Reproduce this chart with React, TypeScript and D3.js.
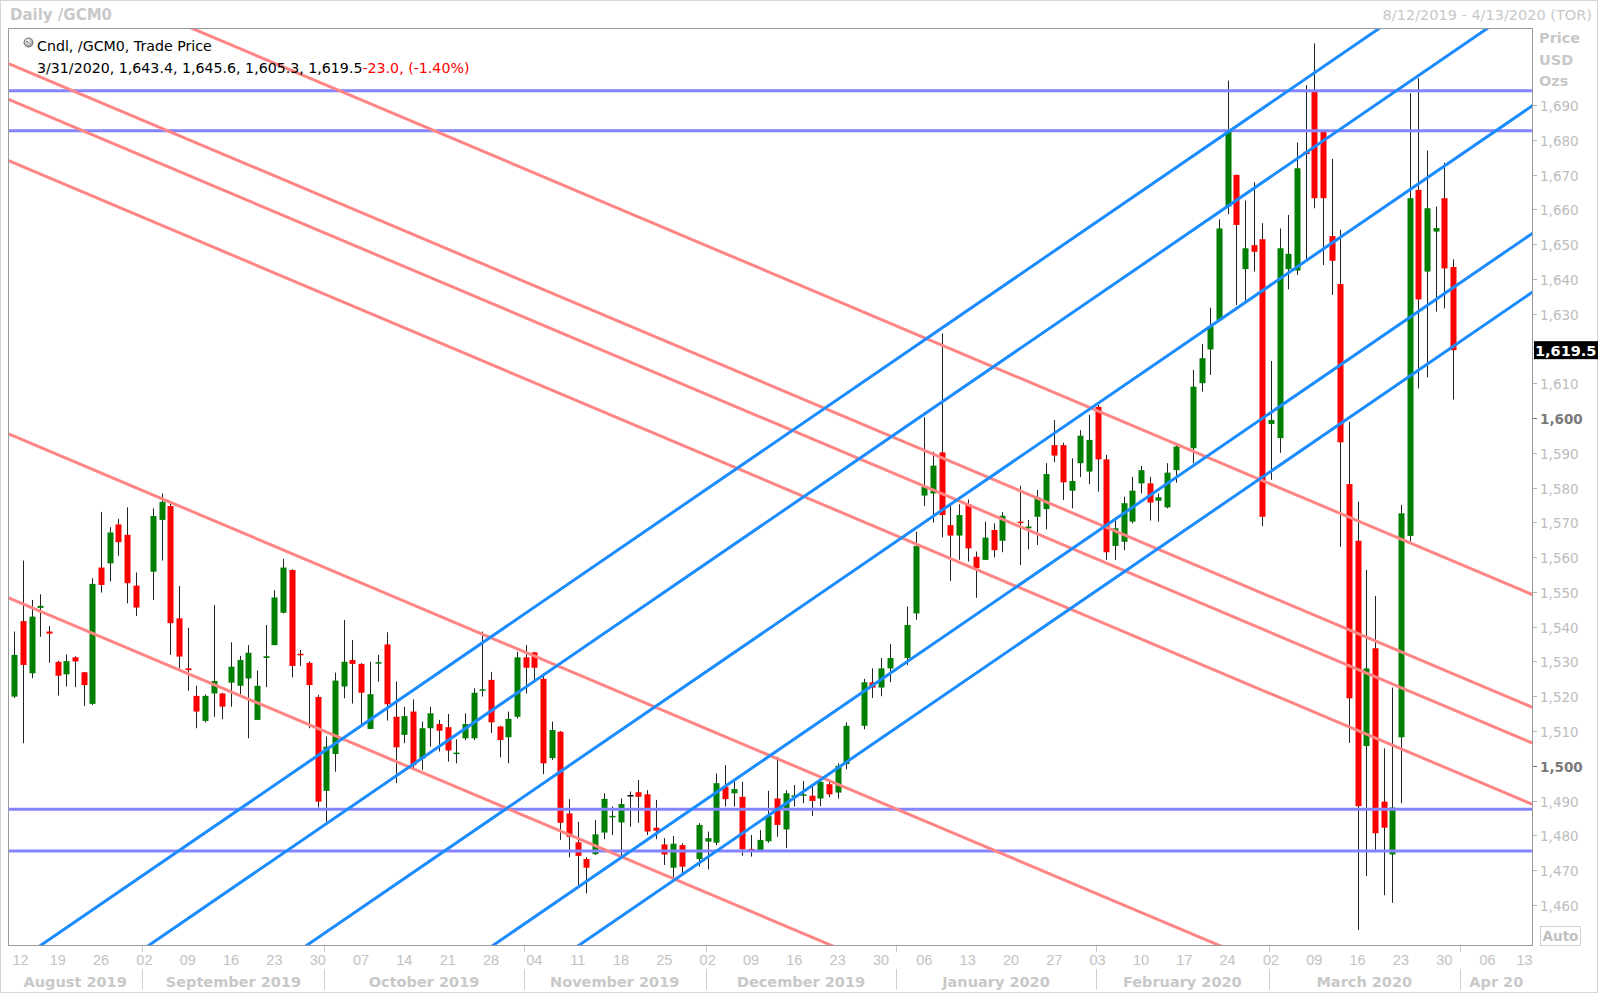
import React from "react";
import * as d3 from "d3";

// ---------- data (GCM0 daily candles) ----------
const dates = [
  "2019-08-12","2019-08-13","2019-08-14","2019-08-15","2019-08-16",
  "2019-08-19","2019-08-20","2019-08-21","2019-08-22","2019-08-23",
  "2019-08-26","2019-08-27","2019-08-28","2019-08-29","2019-08-30",
  "2019-09-03","2019-09-04","2019-09-05","2019-09-06",
  "2019-09-09","2019-09-10","2019-09-11","2019-09-12","2019-09-13",
  "2019-09-16","2019-09-17","2019-09-18","2019-09-19","2019-09-20",
  "2019-09-23","2019-09-24","2019-09-25","2019-09-26","2019-09-27",
  "2019-09-30","2019-10-01","2019-10-02","2019-10-03","2019-10-04",
  "2019-10-07","2019-10-08","2019-10-09","2019-10-10","2019-10-11",
  "2019-10-14","2019-10-15","2019-10-16","2019-10-17","2019-10-18",
  "2019-10-21","2019-10-22","2019-10-23","2019-10-24","2019-10-25",
  "2019-10-28","2019-10-29","2019-10-30","2019-10-31","2019-11-01",
  "2019-11-04","2019-11-05","2019-11-06","2019-11-07","2019-11-08",
  "2019-11-11","2019-11-12","2019-11-13","2019-11-14","2019-11-15",
  "2019-11-18","2019-11-19","2019-11-20","2019-11-21","2019-11-22",
  "2019-11-25","2019-11-26","2019-11-27","2019-11-29",
  "2019-12-02","2019-12-03","2019-12-04","2019-12-05","2019-12-06",
  "2019-12-09","2019-12-10","2019-12-11","2019-12-12","2019-12-13",
  "2019-12-16","2019-12-17","2019-12-18","2019-12-19","2019-12-20",
  "2019-12-23","2019-12-24","2019-12-26","2019-12-27",
  "2019-12-30","2019-12-31","2020-01-02","2020-01-03",
  "2020-01-06","2020-01-07","2020-01-08","2020-01-09","2020-01-10",
  "2020-01-13","2020-01-14","2020-01-15","2020-01-16","2020-01-17",
  "2020-01-21","2020-01-22","2020-01-23","2020-01-24",
  "2020-01-27","2020-01-28","2020-01-29","2020-01-30","2020-01-31",
  "2020-02-03","2020-02-04","2020-02-05","2020-02-06","2020-02-07",
  "2020-02-10","2020-02-11","2020-02-12","2020-02-13","2020-02-14",
  "2020-02-18","2020-02-19","2020-02-20","2020-02-21",
  "2020-02-24","2020-02-25","2020-02-26","2020-02-27","2020-02-28",
  "2020-03-02","2020-03-03","2020-03-04","2020-03-05","2020-03-06",
  "2020-03-09","2020-03-10","2020-03-11","2020-03-12","2020-03-13",
  "2020-03-16","2020-03-17","2020-03-18","2020-03-19","2020-03-20",
  "2020-03-23","2020-03-24","2020-03-25","2020-03-26","2020-03-27",
  "2020-03-30","2020-03-31",
];

const opens = [
  1519.9, 1541.6, 1526.6, 1545.4, 1538.6,
  1529.9, 1526.3, 1531.2, 1526.9, 1517.8,
  1557.0, 1558.2, 1569.4, 1566.4, 1551.8,
  1555.8, 1570.7, 1574.7, 1542.4,
  1528.0, 1520.1, 1512.9, 1520.8, 1520.8,
  1523.9, 1523.0, 1525.1, 1513.2, 1531.0,
  1534.7, 1544.0, 1556.3, 1532.2, 1529.6,
  1519.8, 1492.8, 1503.4, 1522.8, 1530.4,
  1529.3, 1510.6, 1529.5, 1534.9, 1514.1,
  1508.9, 1515.6, 1502.1, 1510.8, 1512.0,
  1511.1, 1503.5, 1507.9, 1507.9, 1521.7,
  1524.7, 1511.3, 1508.2, 1514.1, 1531.2,
  1532.6, 1525.0, 1502.2, 1509.8, 1486.3,
  1478.0, 1473.2, 1474.6, 1480.8, 1485.3,
  1483.7, 1491.6, 1492.4, 1491.8, 1482.2,
  1477.4, 1470.7, 1477.2, 1473.2,
  1478.2, 1477.9, 1494.0, 1492.1, 1491.1,
  1476.1, 1475.8, 1478.3, 1490.6, 1481.7,
  1491.1, 1491.5, 1491.4, 1490.6, 1494.7,
  1492.3, 1500.5, 1511.5, 1524.0,
  1522.5, 1528.0, 1531.0, 1543.8,
  1577.7, 1578.3, 1590.1, 1569.2, 1566.2,
  1575.2, 1560.1, 1559.2, 1567.8, 1564.7,
  1570.2, 1568.3, 1571.6, 1573.8,
  1592.2, 1592.2, 1579.1, 1587.0, 1584.6,
  1603.2, 1588.1, 1563.2, 1564.4, 1570.2,
  1581.2, 1581.2, 1576.2, 1574.3, 1585.0,
  1591.3, 1610.0, 1619.7, 1628.2,
  1660.8, 1669.9, 1642.8, 1649.7, 1651.4,
  1598.3, 1594.2, 1642.8, 1642.4, 1676.6,
  1693.8, 1682.3, 1652.3, 1638.5, 1581.0,
  1564.7, 1505.7, 1533.8, 1489.7, 1474.5,
  1508.2, 1566.1, 1665.6, 1642.1, 1653.6,
  1663.2, 1643.4,
];

const highs = [
  1538.6, 1559.0, 1547.7, 1549.3, 1540.2,
  1530.2, 1532.0, 1531.5, 1527.0, 1553.9,
  1573.0, 1568.6, 1571.0, 1574.3, 1555.6,
  1574.0, 1578.3, 1576.0, 1551.7,
  1539.7, 1523.0, 1520.5, 1546.2, 1521.0,
  1535.5, 1531.6, 1534.7, 1527.4, 1540.5,
  1550.5, 1559.5, 1556.5, 1533.3, 1530.0,
  1520.4, 1508.4, 1526.8, 1541.9, 1536.2,
  1529.5, 1529.9, 1531.9, 1538.4, 1524.2,
  1517.0, 1519.1, 1512.7, 1517.0, 1513.2,
  1514.9, 1507.6, 1515.1, 1522.3, 1538.6,
  1527.0, 1511.5, 1515.6, 1532.8, 1534.7,
  1532.8, 1526.6, 1512.7, 1510.0, 1490.4,
  1483.9, 1473.7, 1484.4, 1492.1, 1488.3,
  1490.6, 1492.6, 1495.9, 1493.0, 1490.2,
  1479.2, 1479.8, 1477.7, 1483.5,
  1481.1, 1497.8, 1500.2, 1495.9, 1495.4,
  1480.1, 1481.5, 1492.8, 1502.6, 1493.0,
  1494.5, 1495.6, 1494.5, 1496.9, 1495.9,
  1500.7, 1512.5, 1525.0, 1528.0,
  1531.0, 1535.0, 1545.8, 1567.3,
  1600.2, 1590.3, 1624.3, 1575.0, 1575.2,
  1576.6, 1561.6, 1570.2, 1569.7, 1572.9,
  1580.5, 1570.7, 1579.3, 1587.0,
  1599.4, 1592.9, 1588.4, 1596.5, 1600.9,
  1603.7, 1589.4, 1571.4, 1577.4, 1583.1,
  1586.2, 1583.1, 1578.3, 1587.0, 1592.7,
  1613.8, 1621.3, 1631.7, 1657.1,
  1697.0, 1670.0, 1662.5, 1667.8, 1656.0,
  1616.4, 1654.5, 1658.4, 1679.2, 1695.7,
  1707.7, 1682.8, 1674.5, 1654.1, 1598.9,
  1575.9, 1556.3, 1548.8, 1505.0, 1522.5,
  1575.0, 1693.4, 1697.7, 1676.9, 1660.8,
  1673.4, 1645.6,
];

const lows = [
  1519.5, 1506.5, 1525.2, 1537.1, 1529.6,
  1520.2, 1522.8, 1522.6, 1517.2, 1517.5,
  1549.8, 1553.0, 1560.4, 1546.7, 1543.1,
  1547.7, 1559.0, 1531.9, 1528.0,
  1521.6, 1510.8, 1512.5, 1514.1, 1513.4,
  1517.0, 1520.6, 1507.9, 1513.2, 1522.6,
  1534.7, 1543.8, 1525.4, 1528.7, 1510.8,
  1488.0, 1483.9, 1498.3, 1519.4, 1517.9,
  1511.7, 1510.6, 1524.2, 1513.0, 1495.0,
  1506.5, 1498.8, 1498.8, 1505.5, 1504.1,
  1501.2, 1500.7, 1507.4, 1507.4, 1519.9,
  1509.5, 1502.4, 1500.7, 1513.6, 1520.8,
  1524.7, 1497.6, 1501.7, 1478.7, 1473.7,
  1465.7, 1463.3, 1474.4, 1478.9, 1480.1,
  1474.1, 1482.5, 1483.6, 1480.1, 1478.9,
  1471.5, 1467.6, 1469.1, 1471.0,
  1470.2, 1477.2, 1488.3, 1488.3, 1474.1,
  1473.9, 1475.3, 1477.9, 1479.6, 1476.3,
  1488.3, 1489.2, 1485.6, 1488.4, 1491.0,
  1490.6, 1499.0, 1510.5, 1519.5,
  1520.0, 1524.0, 1529.0, 1542.0,
  1574.7, 1569.9, 1565.7, 1553.1, 1559.2,
  1558.7, 1548.3, 1559.2, 1559.9, 1561.4,
  1557.7, 1562.2, 1563.5, 1568.0,
  1587.3, 1576.4, 1574.0, 1583.0, 1581.0,
  1578.8, 1559.2, 1559.2, 1562.0, 1569.7,
  1578.3, 1570.5, 1570.2, 1574.0, 1581.4,
  1587.0, 1607.6, 1612.4, 1628.0,
  1658.6, 1632.5, 1633.4, 1642.1, 1568.9,
  1582.2, 1590.0, 1637.0, 1641.1, 1645.4,
  1660.3, 1644.0, 1635.4, 1563.0, 1506.6,
  1452.8, 1468.3, 1475.8, 1462.8, 1460.6,
  1489.2, 1564.5, 1608.5, 1611.7, 1630.6,
  1631.5, 1605.3,
];

const closes = [
  1531.9, 1529.0, 1542.9, 1546.0, 1538.0,
  1525.9, 1530.1, 1530.0, 1523.2, 1552.3,
  1552.0, 1567.1, 1564.3, 1552.5, 1545.5,
  1571.8, 1575.9, 1541.0, 1531.4,
  1527.5, 1515.6, 1520.1, 1524.4, 1517.0,
  1528.5, 1530.4, 1532.5, 1523.0, 1531.5,
  1548.4, 1557.0, 1528.7, 1531.8, 1523.2,
  1489.7, 1505.5, 1524.5, 1529.9, 1529.3,
  1521.0, 1520.6, 1529.8, 1517.7, 1505.3,
  1514.3, 1500.2, 1510.8, 1515.1, 1510.1,
  1504.4, 1503.8, 1512.0, 1521.0, 1522.0,
  1512.5, 1507.4, 1513.5, 1531.2, 1528.2,
  1528.2, 1500.7, 1510.3, 1483.6, 1479.6,
  1474.1, 1470.7, 1480.3, 1490.5, 1485.6,
  1489.0, 1491.6, 1491.1, 1481.1, 1481.3,
  1474.5, 1477.6, 1471.0, 1483.0,
  1479.2, 1495.0, 1490.4, 1493.3, 1476.0,
  1475.8, 1478.7, 1485.6, 1483.0, 1492.1,
  1491.5, 1491.8, 1489.9, 1495.4, 1491.8,
  1500.0, 1511.5, 1524.0, 1522.5,
  1528.0, 1531.0, 1540.5, 1563.2,
  1580.3, 1586.3, 1572.1, 1566.2, 1572.1,
  1562.5, 1556.8, 1565.6, 1562.0, 1571.9,
  1569.8, 1568.8, 1577.2, 1583.9,
  1589.2, 1581.5, 1581.9, 1594.9, 1593.7,
  1588.1, 1561.4, 1568.3, 1575.5, 1579.1,
  1585.0, 1575.7, 1577.2, 1584.3, 1591.8,
  1609.0, 1617.2, 1626.3, 1654.5,
  1682.3, 1655.5, 1648.8, 1647.8, 1571.6,
  1599.4, 1648.8, 1647.2, 1671.8, 1675.9,
  1663.2, 1663.2, 1645.2, 1593.0, 1519.4,
  1488.4, 1528.0, 1480.6, 1482.2, 1488.0,
  1572.6, 1663.2, 1634.1, 1660.3, 1654.6,
  1643.0, 1619.5,
];

// Drawn trend lines: price on 2019-08-12 and price on 2020-04-13
const blueLineStart = [1443.2, 1421.9, 1390.8, 1354.1, 1337.2];
const blueLineEnd = [1741.9, 1720.6, 1689.5, 1652.8, 1635.9];
const pinkLineStart = [1701.2, 1690.9, 1673.3, 1733.6, 1594.7, 1547.6];
const pinkLineEnd = [1517.0, 1506.7, 1489.1, 1549.4, 1410.5, 1363.4];
const levelLines = [1694.1, 1682.6, 1487.5, 1475.5];

const priceTicks = d3.range(1460, 1691, 10);
const boldPriceTicks = [1500, 1600];

const weekTicks = [
  "2019-08-12","2019-08-19","2019-08-26","2019-09-02","2019-09-09","2019-09-16",
  "2019-09-23","2019-09-30","2019-10-07","2019-10-14","2019-10-21","2019-10-28",
  "2019-11-04","2019-11-11","2019-11-18","2019-11-25","2019-12-02","2019-12-09",
  "2019-12-16","2019-12-23","2019-12-30","2020-01-06","2020-01-13","2020-01-20",
  "2020-01-27","2020-02-03","2020-02-10","2020-02-17","2020-02-24","2020-03-02",
  "2020-03-09","2020-03-16","2020-03-23","2020-03-30","2020-04-06","2020-04-13",
];
const monthNames = ["August 2019","September 2019","October 2019","November 2019","December 2019","January 2020","February 2020","March 2020","Apr 20"];
const monthStarts = ["2019-08-01","2019-09-02","2019-10-01","2019-11-01","2019-12-02","2020-01-01","2020-02-03","2020-03-02","2020-04-01"];

const legendTitle = "Cndl, /GCM0, Trade Price";
const legendValues = "3/31/2020, 1,643.4, 1,645.6, 1,605.3, 1,619.5";
const legendChange = "-23.0, (-1.40%)";
const lastPrice = 1619.5;

// ---------- helpers ----------
const BASE = Date.UTC(2019, 7, 12);
function dayIndex(s: string): number {
  const [yy, mm, dd] = s.split("-").map(Number);
  const diff = Math.round((Date.UTC(yy, mm - 1, dd) - BASE) / 86400000);
  const w = Math.floor(diff / 7);
  const r = ((diff % 7) + 7) % 7;
  return w * 5 + Math.min(r, 5);
}

const PL = 8, PR = 1533, PT = 28, PB = 946;
const SANS = "'Liberation Sans', Arial, sans-serif";
const DV = "'DejaVu Sans', Verdana, sans-serif";

export default function App() {
  const x = d3.scaleLinear().domain([-0.74, 175.24]).range([PL, PR]);
  const y = d3.scaleLinear().domain([1448.19, 1712.13]).range([PB, PT]);
  const fmt = d3.format(",");
  const i0 = x.domain()[0], i1 = x.domain()[1];
  const lineGen = d3.line<[number, number]>().x((d) => x(d[0])).y((d) => y(d[1]));

  const trend = (a: number, b: number) => {
    const at = (i: number) => a + ((b - a) * i) / 175;
    return lineGen([[i0, at(i0)], [i1, at(i1)]]) || "";
  };

  const candles = dates.map((d, k) => {
    const i = dayIndex(d);
    const o = opens[k], h = highs[k], l = lows[k], c = closes[k];
    const cx = Math.round(x(i));
    const color = c > o ? "#008000" : c < o ? "#ff0000" : "#000000";
    const top = y(Math.max(o, c));
    const bot = y(Math.min(o, c));
    const bh = Math.max(bot - top, 1.5);
    return (
      <g key={d}>
        <line x1={cx + 0.5} x2={cx + 0.5} y1={y(h)} y2={y(l)} stroke="#222" strokeWidth={1} />
        <rect x={cx - 2.5} y={top} width={6} height={bh} fill={color} />
      </g>
    );
  });

  const sepX = monthStarts.map((s, k) => (k === 0 ? PL : x(dayIndex(s)) - 2));
  const monthCenters = monthNames.map((_, k) => {
    const a = sepX[k];
    const b = k + 1 < sepX.length ? sepX[k + 1] : PR;
    return (a + b) / 2;
  });
  const tagY = y(lastPrice);

  return (
    <svg
      width={1600}
      height={994}
      style={{ position: "absolute", left: 0, top: 0, background: "#fff" }}
      fontFamily={SANS}
    >
      <defs>
        <clipPath id="plotClip">
          <rect x={PL} y={PT} width={PR - PL} height={PB - PT} />
        </clipPath>
        <radialGradient id="icon" cx="40%" cy="35%" r="70%">
          <stop offset="0%" stopColor="#ffffff" />
          <stop offset="100%" stopColor="#8a8a8a" />
        </radialGradient>
      </defs>
      <rect x={0} y={0} width={1600} height={994} fill="#fff" />
      <rect x={0.5} y={0.5} width={1597} height={992} fill="none" stroke="#d6d6d6" />

      {/* header */}
      <text x={10} y={20} fontSize={15} fontWeight="bold" fill="#c8c8c8" fontFamily={DV}>Daily /GCM0</text>
      <text x={1592} y={20} fontSize={14.5} fill="#c8c8c8" textAnchor="end" fontFamily={DV}>8/12/2019 - 4/13/2020 (TOR)</text>

      {/* plot */}
      <g clipPath="url(#plotClip)">
        {candles}
        {levelLines.map((p, k) => (
          <line key={"lv" + k} x1={PL} x2={PR} y1={y(p)} y2={y(p)} stroke="#8484ff" strokeWidth={3} />
        ))}
        {pinkLineStart.map((a, k) => (
          <path key={"pk" + k} d={trend(a, pinkLineEnd[k])} stroke="#ff8585" strokeWidth={3} fill="none" />
        ))}
        {blueLineStart.map((a, k) => (
          <path key={"bl" + k} d={trend(a, blueLineEnd[k])} stroke="#1a8cff" strokeWidth={3} fill="none" />
        ))}
      </g>
      <rect x={PL + 0.5} y={PT + 0.5} width={PR - PL - 1} height={PB - PT - 1} fill="none" stroke="#9a9a9a" strokeWidth={1} />

      {/* legend */}
      <circle cx={28.5} cy={42.5} r={4.5} fill="url(#icon)" stroke="#555" strokeWidth={0.8} />
      <line x1={28.5} y1={42.5} x2={26} y2={41.2} stroke="#333" strokeWidth={0.8} />
      <text x={37} y={51} fontSize={14.2} fill="#000" fontFamily={DV}>{legendTitle}</text>
      <text x={37} y={72.5} fontSize={14.2} fill="#000" fontFamily={DV}>
        {legendValues}
        <tspan fill="#ff0000">{legendChange}</tspan>
      </text>

      {/* right axis */}
      <text x={1539} y={43} fontSize={14.5} fontWeight="bold" fill="#c8c8c8" fontFamily={DV}>Price</text>
      <text x={1539} y={64.5} fontSize={14.5} fontWeight="bold" fill="#c8c8c8" fontFamily={DV}>USD</text>
      <text x={1539} y={86} fontSize={14.5} fontWeight="bold" fill="#c8c8c8" fontFamily={DV}>Ozs</text>
      {priceTicks.map((p) => {
        const bold = boldPriceTicks.includes(p);
        const yy = Math.round(y(p)) + 0.5;
        const hidden = Math.abs(yy - tagY) < 12;
        return (
          <g key={"pt" + p}>
            <line x1={PR} x2={PR + 4} y1={yy} y2={yy} stroke={bold ? "#707070" : "#b5b5b5"} />
            {!hidden && (
              <text
                x={1540}
                y={yy + 5}
                fontSize={13.5}
                fontWeight={bold ? "bold" : "normal"}
                fill={bold ? "#7a7a7a" : "#bdbdbd"}
                fontFamily={DV}
              >
                {fmt(p)}
              </text>
            )}
          </g>
        );
      })}
      <rect x={PR + 1} y={tagY - 9} width={64} height={18} fill="#000" />
      <text x={PR + 2} y={tagY + 5.5} fontSize={14.5} fontWeight="bold" fill="#fff" fontFamily={DV}>
        {d3.format(",.1f")(lastPrice)}
      </text>
      <rect x={1540.5} y={926.5} width={40} height={19} fill="#fff" stroke="#d0d0d0" />
      <text x={1560.5} y={941} fontSize={13.5} fontWeight="bold" fill="#c0c0c0" textAnchor="middle" fontFamily={DV}>Auto</text>

      {/* bottom axis */}
      {weekTicks.map((s) => {
        const cx = Math.min(Math.max(x(dayIndex(s)), 20.5), 1524.5);
        return (
          <text key={"wk" + s} x={cx} y={965} fontSize={14.5} fill="#c2c2c2" textAnchor="middle">
            {s.slice(8, 10)}
          </text>
        );
      })}
      {sepX.slice(1).map((sx, k) => (
        <g key={"sep" + k}>
          <line x1={Math.round(sx) + 0.5} x2={Math.round(sx) + 0.5} y1={PB} y2={952} stroke="#c8c8c8" />
          <line x1={Math.round(sx) + 0.5} x2={Math.round(sx) + 0.5} y1={969} y2={990} stroke="#d0d0d0" />
        </g>
      ))}
      {monthNames.map((m, k) => (
        <text key={"m" + k} x={monthCenters[k]} y={987} fontSize={14.5} fontWeight="bold" fill="#c8c8c8" textAnchor="middle" fontFamily={DV}>
          {m}
        </text>
      ))}
    </svg>
  );
}
